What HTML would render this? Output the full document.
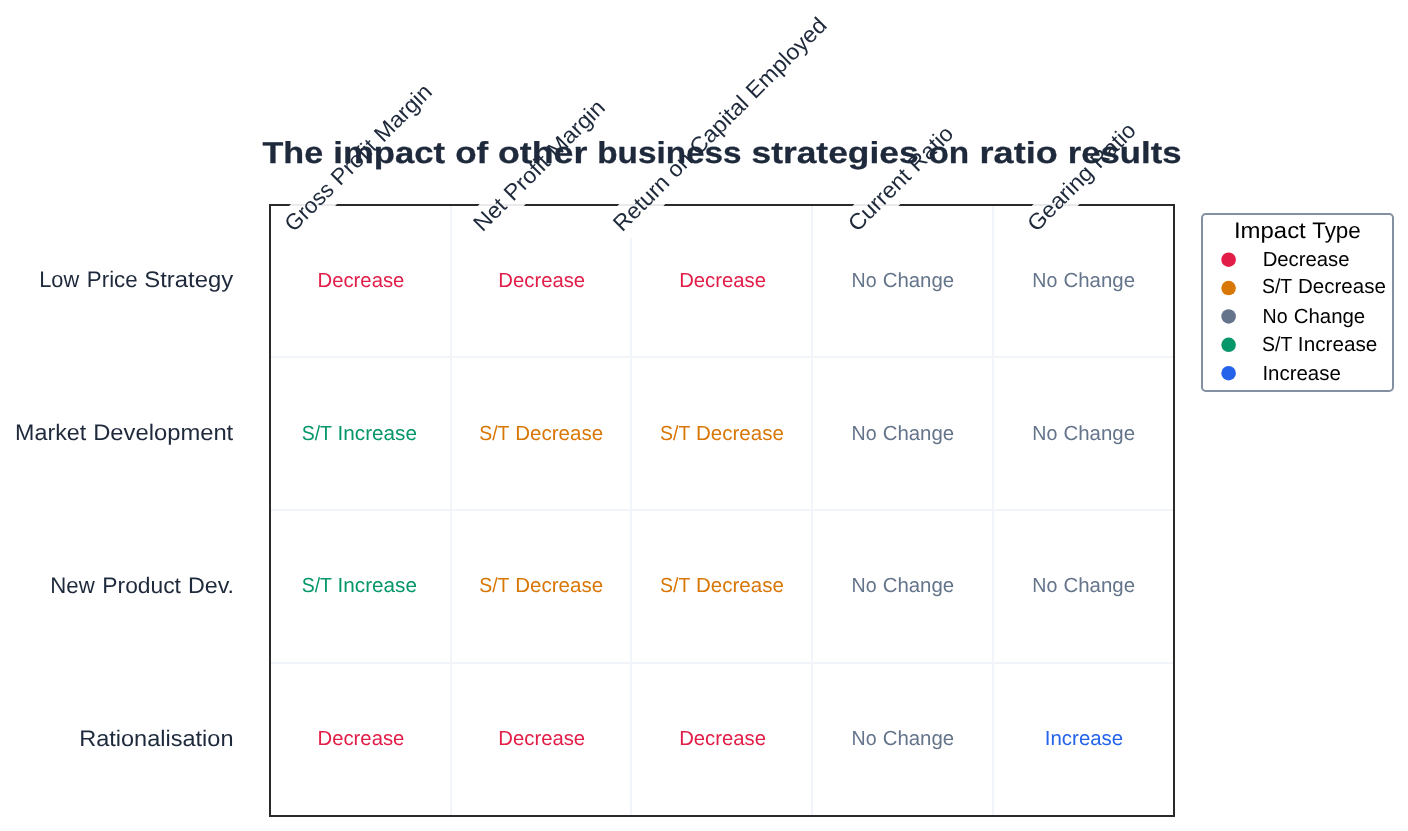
<!DOCTYPE html>
<html lang="en">
<head>
<meta charset="utf-8">
<title>The impact of other business strategies on ratio results</title>
<style>
html,body{margin:0;padding:0;background:#ffffff;}
body{width:1408px;height:831px;overflow:hidden;}
svg{display:block;will-change:transform;font-family:"Liberation Sans",sans-serif;text-rendering:geometricPrecision;}
text{white-space:pre;}
</style>
</head>
<body>
<svg width="1408" height="831" viewBox="0 0 1408 831">
<rect x="0" y="0" width="1408" height="831" fill="#ffffff"/>
<!-- grid -->
<g stroke="#f1f5f9" stroke-width="2" fill="none">
<line x1="451" y1="205" x2="451" y2="816"/>
<line x1="631" y1="205" x2="631" y2="816"/>
<line x1="812" y1="205" x2="812" y2="816"/>
<line x1="993" y1="205" x2="993" y2="816"/>
<line x1="270" y1="357" x2="1174" y2="357"/>
<line x1="270" y1="510" x2="1174" y2="510"/>
<line x1="270" y1="663" x2="1174" y2="663"/>
</g>
<!-- axes frame -->
<rect x="270" y="205" width="904" height="611" fill="none" stroke="#000000" stroke-opacity="0.835" stroke-width="2"/>
<!-- column headers -->
<g transform="translate(293.82,232.67) rotate(-45)"><rect x="-6.25" y="-22.25" width="210.00" height="32.50" rx="6.25" ry="6.25" fill="#ffffff" fill-opacity="0.9"/><text y="0.00" font-size="22.50" fill="#1e293b"><tspan x="0.01" textLength="58.55" lengthAdjust="spacingAndGlyphs">Gross</tspan><tspan x="58.56"> </tspan><tspan x="65.48" textLength="53.95" lengthAdjust="spacingAndGlyphs">Profit</tspan><tspan x="119.43"> </tspan><tspan x="126.48" textLength="70.81" lengthAdjust="spacingAndGlyphs">Margin</tspan></text></g>
<g transform="translate(482.48,232.67) rotate(-45)"><rect x="-6.25" y="-22.25" width="187.75" height="32.50" rx="6.25" ry="6.25" fill="#ffffff" fill-opacity="0.9"/><text y="0.00" font-size="22.50" fill="#1e293b"><tspan x="0.10" textLength="36.10" lengthAdjust="spacingAndGlyphs">Net</tspan><tspan x="36.20"> </tspan><tspan x="43.23" textLength="53.95" lengthAdjust="spacingAndGlyphs">Profit</tspan><tspan x="97.18"> </tspan><tspan x="104.22" textLength="70.81" lengthAdjust="spacingAndGlyphs">Margin</tspan></text></g>
<g transform="translate(622.14,232.67) rotate(-45)"><rect x="-6.25" y="-22.25" width="304.12" height="32.50" rx="6.25" ry="6.25" fill="#ffffff" fill-opacity="0.9"/><text y="0.00" font-size="22.50" fill="#1e293b"><tspan x="0.13" textLength="68.70" lengthAdjust="spacingAndGlyphs">Return</tspan><tspan x="68.82"> </tspan><tspan x="75.75" textLength="25.52" lengthAdjust="spacingAndGlyphs">on</tspan><tspan x="101.28"> </tspan><tspan x="108.04" textLength="72.84" lengthAdjust="spacingAndGlyphs">Capital</tspan><tspan x="180.87"> </tspan><tspan x="187.97" textLength="103.37" lengthAdjust="spacingAndGlyphs">Employed</tspan></text></g>
<g transform="translate(857.21,232.67) rotate(-45)"><rect x="-6.25" y="-22.25" width="150.62" height="32.50" rx="6.25" ry="6.25" fill="#ffffff" fill-opacity="0.9"/><text y="0.00" font-size="22.50" fill="#1e293b"><tspan x="-0.09" textLength="77.93" lengthAdjust="spacingAndGlyphs">Current</tspan><tspan x="77.84"> </tspan><tspan x="84.89" textLength="53.12" lengthAdjust="spacingAndGlyphs">Ratio</tspan></text></g>
<g transform="translate(1036.42,232.67) rotate(-45)"><rect x="-6.25" y="-22.25" width="155.12" height="32.50" rx="6.25" ry="6.25" fill="#ffffff" fill-opacity="0.9"/><text y="0.00" font-size="22.50" fill="#1e293b"><tspan x="-0.06" textLength="82.38" lengthAdjust="spacingAndGlyphs">Gearing</tspan><tspan x="82.32"> </tspan><tspan x="89.38" textLength="53.12" lengthAdjust="spacingAndGlyphs">Ratio</tspan></text></g>
<!-- title -->
<text y="162.80" font-size="30.33" font-weight="bold" stroke="#1e293b" stroke-width="0.28" stroke-linejoin="round" fill="#1e293b"><tspan x="262.47" textLength="60.68" lengthAdjust="spacingAndGlyphs">The</tspan><tspan x="323.14"> </tspan><tspan x="333.30" textLength="111.66" lengthAdjust="spacingAndGlyphs">impact</tspan><tspan x="444.96"> </tspan><tspan x="455.22" textLength="33.04" lengthAdjust="spacingAndGlyphs">of</tspan><tspan x="488.25"> </tspan><tspan x="497.93" textLength="89.39" lengthAdjust="spacingAndGlyphs">other</tspan><tspan x="587.32"> </tspan><tspan x="597.27" textLength="144.32" lengthAdjust="spacingAndGlyphs">business</tspan><tspan x="741.59"> </tspan><tspan x="751.51" textLength="167.09" lengthAdjust="spacingAndGlyphs">strategies</tspan><tspan x="918.60"> </tspan><tspan x="928.53" textLength="40.70" lengthAdjust="spacingAndGlyphs">on</tspan><tspan x="969.24"> </tspan><tspan x="979.58" textLength="78.09" lengthAdjust="spacingAndGlyphs">ratio</tspan><tspan x="1057.67"> </tspan><tspan x="1067.80" textLength="113.72" lengthAdjust="spacingAndGlyphs">results</tspan></text>
<!-- row labels -->
<text y="287.37" font-size="22.50" fill="#1e293b"><tspan x="39.16" textLength="39.99" lengthAdjust="spacingAndGlyphs">Low</tspan><tspan x="79.16"> </tspan><tspan x="86.87" textLength="50.76" lengthAdjust="spacingAndGlyphs">Price</tspan><tspan x="137.64"> </tspan><tspan x="144.28" textLength="88.86" lengthAdjust="spacingAndGlyphs">Strategy</tspan></text>
<text y="440.12" font-size="22.50" fill="#1e293b"><tspan x="15.09" textLength="71.10" lengthAdjust="spacingAndGlyphs">Market</tspan><tspan x="86.19"> </tspan><tspan x="93.17" textLength="140.08" lengthAdjust="spacingAndGlyphs">Development</tspan></text>
<text y="592.88" font-size="22.50" fill="#1e293b"><tspan x="50.28" textLength="44.39" lengthAdjust="spacingAndGlyphs">New</tspan><tspan x="94.67"> </tspan><tspan x="102.35" textLength="78.58" lengthAdjust="spacingAndGlyphs">Product</tspan><tspan x="180.94"> </tspan><tspan x="187.94" textLength="46.14" lengthAdjust="spacingAndGlyphs">Dev.</tspan></text>
<text y="745.62" font-size="22.50" fill="#1e293b"><tspan x="79.17" textLength="154.35" lengthAdjust="spacingAndGlyphs">Rationalisation</tspan></text>
<!-- cell labels -->
<text y="286.87" font-size="20.34" fill="#e11d48"><tspan x="317.54" textLength="86.81" lengthAdjust="spacingAndGlyphs">Decrease</tspan></text>
<text y="286.87" font-size="20.34" fill="#e11d48"><tspan x="498.34" textLength="86.81" lengthAdjust="spacingAndGlyphs">Decrease</tspan></text>
<text y="286.87" font-size="20.34" fill="#e11d48"><tspan x="679.14" textLength="86.81" lengthAdjust="spacingAndGlyphs">Decrease</tspan></text>
<text y="286.87" font-size="20.34" fill="#64748b"><tspan x="851.50" textLength="25.06" lengthAdjust="spacingAndGlyphs">No</tspan><tspan x="876.56"> </tspan><tspan x="882.67" textLength="71.55" lengthAdjust="spacingAndGlyphs">Change</tspan></text>
<text y="286.87" font-size="20.34" fill="#64748b"><tspan x="1032.30" textLength="25.06" lengthAdjust="spacingAndGlyphs">No</tspan><tspan x="1057.36"> </tspan><tspan x="1063.47" textLength="71.55" lengthAdjust="spacingAndGlyphs">Change</tspan></text>
<text y="439.62" font-size="20.34" fill="#059669"><tspan x="301.78" textLength="30.22" lengthAdjust="spacingAndGlyphs">S/T</tspan><tspan x="331.99"> </tspan><tspan x="337.55" textLength="79.40" lengthAdjust="spacingAndGlyphs">Increase</tspan></text>
<text y="439.62" font-size="20.34" fill="#d97706"><tspan x="479.26" textLength="30.22" lengthAdjust="spacingAndGlyphs">S/T</tspan><tspan x="509.48"> </tspan><tspan x="515.26" textLength="87.84" lengthAdjust="spacingAndGlyphs">Decrease</tspan></text>
<text y="439.62" font-size="20.34" fill="#d97706"><tspan x="660.06" textLength="30.22" lengthAdjust="spacingAndGlyphs">S/T</tspan><tspan x="690.28"> </tspan><tspan x="696.06" textLength="87.84" lengthAdjust="spacingAndGlyphs">Decrease</tspan></text>
<text y="439.62" font-size="20.34" fill="#64748b"><tspan x="851.50" textLength="25.06" lengthAdjust="spacingAndGlyphs">No</tspan><tspan x="876.56"> </tspan><tspan x="882.67" textLength="71.55" lengthAdjust="spacingAndGlyphs">Change</tspan></text>
<text y="439.62" font-size="20.34" fill="#64748b"><tspan x="1032.30" textLength="25.06" lengthAdjust="spacingAndGlyphs">No</tspan><tspan x="1057.36"> </tspan><tspan x="1063.47" textLength="71.55" lengthAdjust="spacingAndGlyphs">Change</tspan></text>
<text y="592.38" font-size="20.34" fill="#059669"><tspan x="301.78" textLength="30.22" lengthAdjust="spacingAndGlyphs">S/T</tspan><tspan x="331.99"> </tspan><tspan x="337.55" textLength="79.40" lengthAdjust="spacingAndGlyphs">Increase</tspan></text>
<text y="592.38" font-size="20.34" fill="#d97706"><tspan x="479.26" textLength="30.22" lengthAdjust="spacingAndGlyphs">S/T</tspan><tspan x="509.48"> </tspan><tspan x="515.26" textLength="87.84" lengthAdjust="spacingAndGlyphs">Decrease</tspan></text>
<text y="592.38" font-size="20.34" fill="#d97706"><tspan x="660.06" textLength="30.22" lengthAdjust="spacingAndGlyphs">S/T</tspan><tspan x="690.28"> </tspan><tspan x="696.06" textLength="87.84" lengthAdjust="spacingAndGlyphs">Decrease</tspan></text>
<text y="592.38" font-size="20.34" fill="#64748b"><tspan x="851.50" textLength="25.06" lengthAdjust="spacingAndGlyphs">No</tspan><tspan x="876.56"> </tspan><tspan x="882.67" textLength="71.55" lengthAdjust="spacingAndGlyphs">Change</tspan></text>
<text y="592.38" font-size="20.34" fill="#64748b"><tspan x="1032.30" textLength="25.06" lengthAdjust="spacingAndGlyphs">No</tspan><tspan x="1057.36"> </tspan><tspan x="1063.47" textLength="71.55" lengthAdjust="spacingAndGlyphs">Change</tspan></text>
<text y="745.12" font-size="20.34" fill="#e11d48"><tspan x="317.54" textLength="86.81" lengthAdjust="spacingAndGlyphs">Decrease</tspan></text>
<text y="745.12" font-size="20.34" fill="#e11d48"><tspan x="498.34" textLength="86.81" lengthAdjust="spacingAndGlyphs">Decrease</tspan></text>
<text y="745.12" font-size="20.34" fill="#e11d48"><tspan x="679.14" textLength="86.81" lengthAdjust="spacingAndGlyphs">Decrease</tspan></text>
<text y="745.12" font-size="20.34" fill="#64748b"><tspan x="851.50" textLength="25.06" lengthAdjust="spacingAndGlyphs">No</tspan><tspan x="876.56"> </tspan><tspan x="882.67" textLength="71.55" lengthAdjust="spacingAndGlyphs">Change</tspan></text>
<text y="745.12" font-size="20.34" fill="#2563eb"><tspan x="1044.84" textLength="78.36" lengthAdjust="spacingAndGlyphs">Increase</tspan></text>
<!-- legend -->
<rect x="1202" y="214" width="191" height="177" rx="3.75" ry="3.75" fill="#ffffff" fill-opacity="0.8" stroke="#64748b" stroke-opacity="0.8" stroke-width="2"/>
<circle cx="1228.61" cy="259.69" r="7.29" fill="#e11d48"/>
<circle cx="1228.61" cy="288.06" r="7.29" fill="#d97706"/>
<circle cx="1228.61" cy="316.44" r="7.29" fill="#64748b"/>
<circle cx="1228.61" cy="344.81" r="7.29" fill="#059669"/>
<circle cx="1228.61" cy="373.19" r="7.29" fill="#2563eb"/>
<text y="237.57" font-size="22.50" fill="#000000"><tspan x="1233.96" textLength="71.81" lengthAdjust="spacingAndGlyphs">Impact</tspan><tspan x="1305.77"> </tspan><tspan x="1312.18" textLength="48.61" lengthAdjust="spacingAndGlyphs">Type</tspan></text>
<text y="266.25" font-size="20.34" fill="#000000"><tspan x="1262.66" textLength="86.81" lengthAdjust="spacingAndGlyphs">Decrease</tspan></text>
<text y="293.42" font-size="20.34" fill="#000000"><tspan x="1262.02" textLength="30.22" lengthAdjust="spacingAndGlyphs">S/T</tspan><tspan x="1292.24"> </tspan><tspan x="1298.01" textLength="87.84" lengthAdjust="spacingAndGlyphs">Decrease</tspan></text>
<text y="323.00" font-size="20.34" fill="#000000"><tspan x="1262.52" textLength="25.06" lengthAdjust="spacingAndGlyphs">No</tspan><tspan x="1287.58"> </tspan><tspan x="1293.69" textLength="71.55" lengthAdjust="spacingAndGlyphs">Change</tspan></text>
<text y="351.37" font-size="20.34" fill="#000000"><tspan x="1262.12" textLength="30.22" lengthAdjust="spacingAndGlyphs">S/T</tspan><tspan x="1292.34"> </tspan><tspan x="1297.89" textLength="79.40" lengthAdjust="spacingAndGlyphs">Increase</tspan></text>
<text y="379.75" font-size="20.34" fill="#000000"><tspan x="1262.44" textLength="78.36" lengthAdjust="spacingAndGlyphs">Increase</tspan></text>
</svg>
</body>
</html>
